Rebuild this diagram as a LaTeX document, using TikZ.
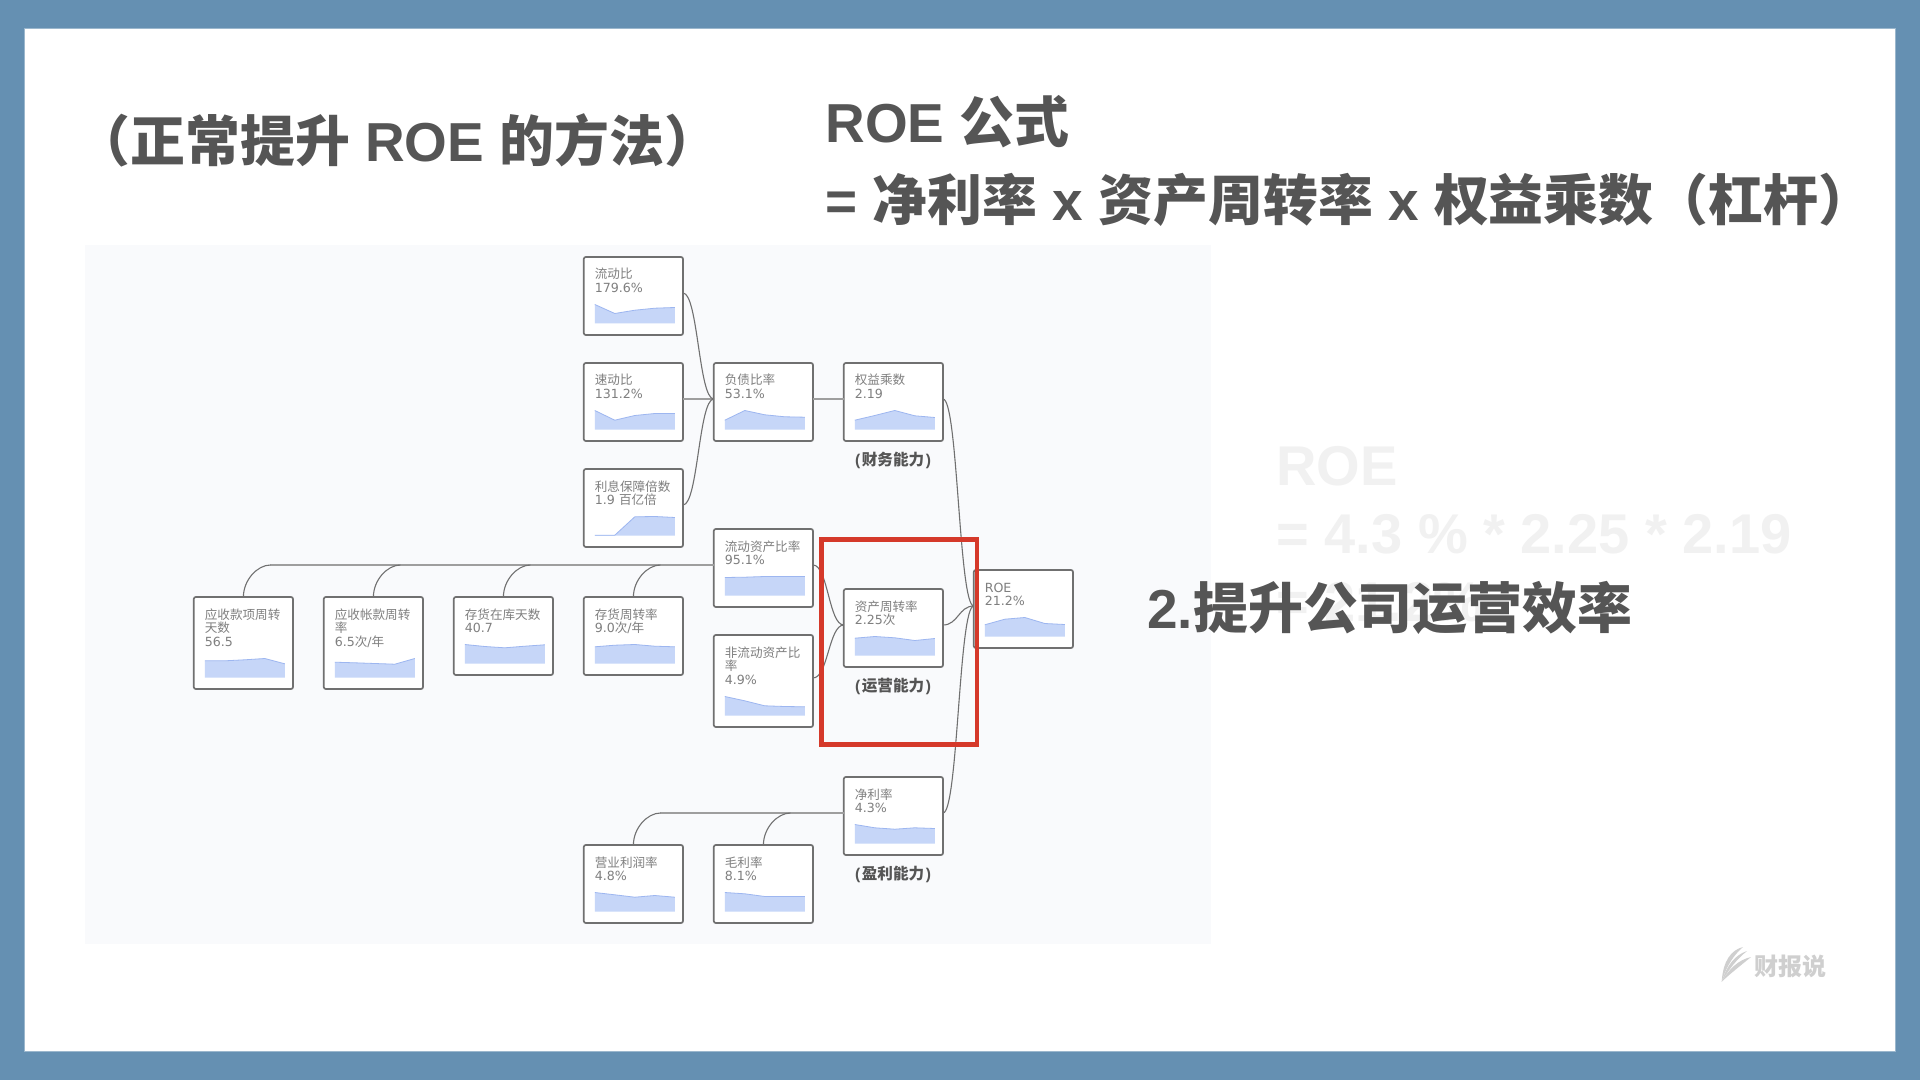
\documentclass[tikz,border=0pt]{standalone}
\usepackage{fontspec}
\setmainfont{Liberation Sans}
\newfontfamily\cjk{Noto Sans CJK SC}
\newfontfamily\dv{DejaVu Sans}
\usetikzlibrary{calc}
\definecolor{framecol}{HTML}{6590B2}
\definecolor{panelcol}{HTML}{F9FAFC}
\definecolor{titlecol}{HTML}{555555}
\definecolor{ghostcol}{HTML}{F1F1F1}
\definecolor{cardcol}{HTML}{707070}
\definecolor{labelcol}{HTML}{7F7F7F}
\definecolor{fillcol}{HTML}{C6D6F8}
\definecolor{edgecol}{HTML}{9DB6F0}
\definecolor{redcol}{HTML}{D5392A}
\definecolor{markcol}{HTML}{CFCFCF}
\tikzset{
  card/.style={draw=cardcol,line width=.85pt,fill=white,rounded corners=1pt,anchor=north west,outer sep=0pt,xshift=.4pt,
    inner xsep=5.5pt,inner ysep=0pt,text width=38.6pt,align=left,text=labelcol,
    font=\cjk\fontsize{6.3}{6.85}\selectfont,text height=11pt,text depth=#1},
  title/.style={anchor=west,inner sep=0pt,text=titlecol,font=\bfseries\fontsize{27.45}{30}\selectfont},
  ghost/.style={anchor=west,inner sep=0pt,text=ghostcol,font=\bfseries\fontsize{28}{30}\selectfont},
  ability/.style={inner sep=0pt,text=titlecol,font=\bfseries\fontsize{7.8}{9}\selectfont},
  curvelink/.style={draw=cardcol,line width=.55pt},
  flatlink/.style={draw=black!38,line width=.6pt},
  sparkfill/.style={fill=fillcol},
  sparkedge/.style={draw=edgecol,line width=.4pt}
}
\newcommand{\spark}[6]{
\begin{scope}[shift={(#1.south west)},xshift=5.5pt,yshift=5.75pt]
\fill[sparkfill] (0,0) -- (0,-#2) -- (20,-#3) -- (40,-#4) -- (60,-#5) -- (80,-#6) -- (80,0) -- cycle;
\draw[sparkedge] (0,-#2) -- (20,-#3) -- (40,-#4) -- (60,-#5) -- (80,-#6);
\end{scope}}
\newcommand{\curvelink}[2]{\draw[curvelink] ([yshift=1.5pt]#1.east) .. controls +(15,0) and +(-15,0) .. ([yshift=1.5pt]#2.west);}
\newcommand{\elbow}[2]{\draw[curvelink] (#1.north) .. controls +(0,-17) and +(-13,0) .. ($(#1.north |- #2)+(27,0)$);}
\begin{document}
\begin{tikzpicture}[x=0.5pt,y=-0.5pt]
\useasboundingbox (0,0) rectangle (1920,1080);
\fill[framecol] (0,0) rectangle (1920,1080);
\filldraw[fill=white,draw=framecol!65!white,line width=.5pt] (24.5,29) rectangle (1895,1051);
\fill[panelcol] (84.5,245) rectangle (1211,944);

\node[ghost] (ghostA) at (1276,466) {ROE};
\node[ghost] (ghostB) at (1276,534) {= 4.3 \% * 2.25 * 2.19};
\node[ghost] (ghostC) at (1276,602) {= 21.2\%};

\node[title] (titleA) at (75,140) {{\cjk （正常提升} ROE {\cjk 的方法）}};
\node[title] (titleB) at (825,122) {ROE {\cjk 公式}};
\node[title] (titleC) at (825,200) {= {\cjk 净利率} x {\cjk 资产周转率} x {\cjk 权益乘数（杠杆）}};

\node[card=28pt] (liudong) at (583,257) {流动比\\\dv 179.6\%};
\spark{liudong}{19}{10}{13.3}{15.3}{16}
\node[card=28pt] (sudong) at (583,363) {速动比\\\dv 131.2\%};
\spark{sudong}{19}{9.3}{14}{16}{16}
\node[card=28pt] (lixi) at (583,469) {利息保障倍数\\{\dv 1.9} 百亿倍};
\spark{lixi}{.3}{.3}{18.7}{19}{18}
\node[card=28pt] (fuzhai) at (713,363) {负债比率\\\dv 53.1\%};
\spark{fuzhai}{9.3}{19}{14.7}{12.7}{12.3}
\node[card=28pt] (quanyi) at (843,363) {权益乘数\\\dv 2.19};
\spark{quanyi}{9.3}{14}{19}{13.7}{12}
\node[card=35pt] (yskx) at (193,597) {应收款项周转\\天数\\\dv 56.5};
\spark{yskx}{16.7}{16.7}{17.7}{19}{13.7}
\node[card=35pt] (yszk) at (323,597) {应收帐款周转\\率\\{\dv 6.5}次{\dv /}年};
\spark{yszk}{15.3}{14.7}{14}{13.3}{19}
\node[card=28pt] (chzk) at (453,597) {存货在库天数\\\dv 40.7};
\spark{chzk}{19}{17}{15.7}{17.3}{18.7}
\node[card=28pt] (chzz) at (583,597) {存货周转率\\{\dv 9.0}次{\dv /}年};
\spark{chzz}{16.7}{18.3}{19}{17.3}{16.7}
\node[card=28pt] (ldzc) at (713,529) {流动资产比率\\\dv 95.1\%};
\spark{ldzc}{18}{18.3}{19}{19}{19}
\node[card=35pt] (fldzc) at (713,635) {非流动资产比\\率\\\dv 4.9\%};
\spark{fldzc}{19}{14.7}{9.7}{9}{8.7}
\node[card=28pt] (zczz) at (843,589) {资产周转率\\{\dv 2.25}次};
\spark{zczz}{17.3}{19}{17.7}{15}{17}
\node[card=28pt] (roe) at (973,570) {\dv ROE\\21.2\%};
\spark{roe}{11.7}{17.3}{19}{13}{12}
\node[card=28pt] (jinglv) at (843,777) {净利率\\\dv 4.3\%};
\spark{jinglv}{19}{15.7}{14.3}{15.7}{15}
\node[card=28pt] (yingye) at (583,845) {营业利润率\\\dv 4.8\%};
\spark{yingye}{19}{16.7}{14.3}{16}{14.3}
\node[card=28pt] (maoli) at (713,845) {毛利率\\\dv 8.1\%};
\spark{maoli}{19}{17.7}{15}{15}{15}

\node[ability] (capA) at (893,460) {(\kern.8pt{\cjk 财务能力}\kern.8pt)};
\node[ability] (capB) at (893,686) {(\kern.8pt{\cjk 运营能力}\kern.8pt)};
\node[ability] (capC) at (893,874) {(\kern.8pt{\cjk 盈利能力}\kern.8pt)};

\coordinate (hubA) at ([yshift=1.5pt]ldzc.west);
\coordinate (hubB) at ([yshift=1.5pt]jinglv.west);
\draw[flatlink] ([yshift=1.5pt]sudong.east) -- ([yshift=1.5pt]fuzhai.west);
\draw[flatlink] ([yshift=1.5pt]fuzhai.east) -- ([yshift=1.5pt]quanyi.west);
\draw[flatlink] ($(yskx.north |- hubA)+(27,0)$) -- (hubA);
\draw[flatlink] ($(yingye.north |- hubB)+(27,0)$) -- (hubB);
\elbow{yskx}{hubA}
\elbow{yszk}{hubA}
\elbow{chzk}{hubA}
\elbow{chzz}{hubA}
\elbow{yingye}{hubB}
\elbow{maoli}{hubB}
\curvelink{liudong}{fuzhai}
\curvelink{lixi}{fuzhai}
\curvelink{ldzc}{zczz}
\curvelink{fldzc}{zczz}
\curvelink{quanyi}{roe}
\curvelink{zczz}{roe}
\curvelink{jinglv}{roe}

\draw[redcol,line width=2.25pt] (821.5,539.5) rectangle (977,744.5);

\node[title,anchor=west] (goal) at (1147,608) {2.{\cjk 提升公司运营效率}};

\fill[markcol] (1721.7,981.7) .. controls (1723,961) and (1731,950) .. (1743,947) .. controls (1735,954) and (1727,964) .. (1721.7,981.7);
\fill[markcol] (1721.7,981.7) .. controls (1727,965) and (1735,955) .. (1747,951) .. controls (1737,959) and (1729,969) .. (1721.7,981.7);
\fill[markcol] (1721.7,981.7) .. controls (1729,969) and (1738,960) .. (1751,957) .. controls (1740,966) and (1731,973) .. (1721.7,981.7);
\node[anchor=west,inner sep=0pt,text=markcol,font=\cjk\bfseries\fontsize{12}{14}\selectfont] (mark) at (1754,966) {财报说};
\end{tikzpicture}
\end{document}
